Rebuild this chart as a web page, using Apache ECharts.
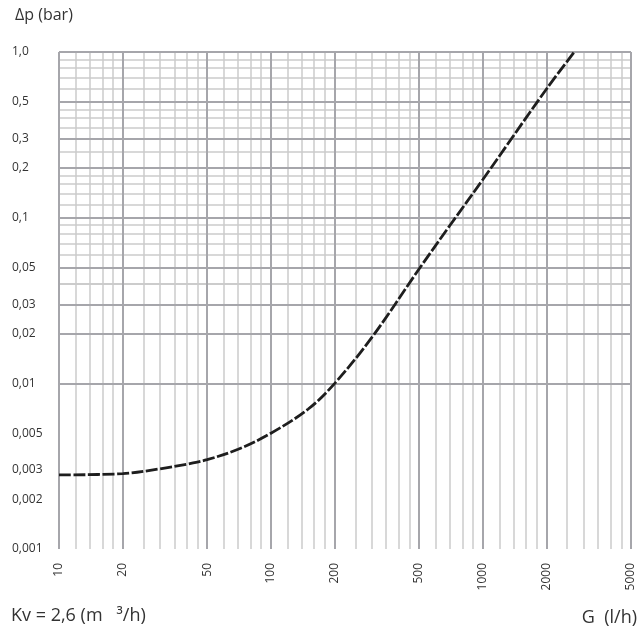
<!DOCTYPE html>
<html>
<head>
<meta charset="utf-8">
<script src="https://cdn.jsdelivr.net/npm/echarts@6/dist/echarts.min.js"></script>
<style>
    html, body { margin: 0; padding: 0; background: #fff; }
    #divChart { width: 639px; height: 630px; }
</style>
</head>
<body>
<div id="divChart"></div>
<script>
// 流量 G (l/h) 与压降 Δp (bar)
var adFlow = [10, 20, 30, 40, 50, 70, 100, 150, 200, 300, 500, 700, 1000, 2000, 2700];
var adDrop = [0.0028, 0.00285, 0.00305, 0.00325, 0.00346, 0.004, 0.005, 0.007, 0.01, 0.019, 0.049, 0.09, 0.17, 0.6, 1.0];

// x 轴刻度
var adXMajor = [10, 20, 50, 100, 200, 500, 1000, 2000, 5000];
var acXLabel = ['10', '20', '50', '100', '200', '500', '1000', '2000', '5000'];
var adXMinor = [12, 14, 16, 18, 25, 30, 35, 40, 45, 60, 70, 80, 90,
    120, 140, 160, 180, 250, 300, 350, 400, 450, 600, 700, 800, 900,
    1200, 1400, 1600, 1800, 2500, 3000, 3500, 4000, 4500];

// y 轴刻度
var adYMajor = [0.001, 0.002, 0.003, 0.005, 0.01, 0.02, 0.03, 0.05, 0.1, 0.2, 0.3, 0.5, 1];
var acYLabel = ['0,001', '0,002', '0,003', '0,005', '0,01', '0,02', '0,03', '0,05', '0,1', '0,2', '0,3', '0,5', '1,0'];
var adYMinor = [0.0012, 0.0014, 0.0016, 0.0018, 0.0025, 0.0035, 0.004, 0.0045, 0.006, 0.007, 0.008, 0.009,
    0.012, 0.014, 0.016, 0.018, 0.025, 0.035, 0.04, 0.045, 0.06, 0.07, 0.08, 0.09,
    0.12, 0.14, 0.16, 0.18, 0.25, 0.35, 0.4, 0.45, 0.6, 0.7, 0.8, 0.9];

var cFont = '"Open Sans", "Noto Sans", sans-serif';

// 查找刻度对应的文字
function getLabel(adVal, acText, dVal) {
    for (var i = 0; i < adVal.length; i++) {
        if (Math.abs(Math.log10(adVal[i]) - Math.log10(dVal)) < 1e-6) return acText[i];
    }
    return '';
}

// 网格线, 用 markLine 画在数据坐标上
function gridSeries(adVal, cAxis, oStyle, nZ) {
    return {
        type: 'line',
        data: [],
        silent: true,
        z: nZ,
        markLine: {
            silent: true,
            symbol: 'none',
            animation: false,
            label: { show: false },
            lineStyle: oStyle,
            data: adVal.map(function (d) { var o = {}; o[cAxis] = d; return o; })
        }
    };
}

var oMinor = { color: '#cbcbcb', width: 1.5, type: 'solid' };
var oMajor = { color: '#a6a6ab', width: 2, type: 'solid' };

var aoPoint = [];
for (var i = 0; i < adFlow.length; i++) aoPoint.push([adFlow[i], adDrop[i]]);

var oOption = {
    animation: false,
    backgroundColor: '#fff',
    textStyle: { fontFamily: cFont },
    grid: { left: 59, right: 8, top: 52, bottom: 81 },
    xAxis: {
        type: 'log',
        logBase: 10,
        min: 10,
        max: 5000,
        axisLine: { show: false },
        axisTick: { show: false },
        splitLine: { show: false },
        axisLabel: {
            customValues: adXMajor,
            rotate: 90,
            margin: 14,
            fontSize: 12,
            color: '#333',
            fontFamily: cFont,
            formatter: function (v) { return getLabel(adXMajor, acXLabel, v); }
        }
    },
    yAxis: {
        type: 'log',
        logBase: 10,
        min: 0.001,
        max: 1,
        axisLine: { show: false },
        axisTick: { show: false },
        splitLine: { show: false },
        axisLabel: {
            customValues: adYMajor,
            align: 'left',
            margin: 47,
            fontSize: 12,
            color: '#333',
            fontFamily: cFont,
            formatter: function (v) { return getLabel(adYMajor, acYLabel, v); }
        }
    },
    graphic: [
        { type: 'text', left: 15, top: 7, style: { text: 'Δp (bar)', font: '16px ' + cFont, fill: '#333' } },
        { type: 'text', left: 11, top: 607, style: { text: 'Kv = 2,6 (m   ³/h)', font: '18px ' + cFont, fill: '#333' } },
        { type: 'text', right: 2, top: 609, style: { text: 'G  (l/h)', font: '18px ' + cFont, fill: '#333' } }
    ],
    series: [
        gridSeries(adXMinor, 'xAxis', oMinor, 1),
        gridSeries(adYMinor, 'yAxis', oMinor, 1),
        gridSeries(adXMajor, 'xAxis', oMajor, 2),
        gridSeries(adYMajor, 'yAxis', oMajor, 2),
        {
            name: 'Δp',
            type: 'line',
            z: 5,
            smooth: 0.35,
            symbol: 'none',
            data: aoPoint,
            lineStyle: { color: '#1e1e1e', width: 2.8, type: [12, 2.5] }
        }
    ]
};

var oChart = echarts.init(document.getElementById('divChart'));
oChart.setOption(oOption, true);
</script>
</body>
</html>
